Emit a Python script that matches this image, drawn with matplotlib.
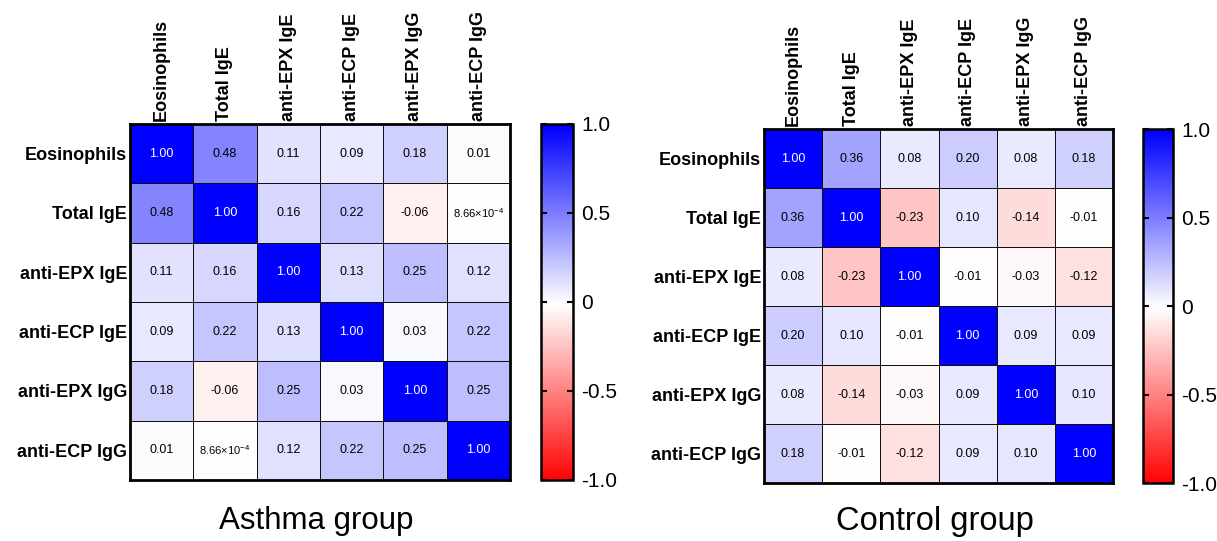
import numpy as np
import matplotlib
matplotlib.use("Agg")
import matplotlib.pyplot as plt
from matplotlib.colors import LinearSegmentedColormap

plt.rcParams['font.family'] = ['Liberation Sans', 'DejaVu Sans']
plt.rcParams['mathtext.fontset'] = 'custom'
plt.rcParams['mathtext.rm'] = 'Liberation Sans'
plt.rcParams['mathtext.it'] = 'Liberation Sans'

# data
labels = ['Eosinophils', 'Total IgE', 'anti-EPX IgE', 'anti-ECP IgE',
          'anti-EPX IgG', 'anti-ECP IgG']

asthma = [
    [1.00, 0.48, 0.11, 0.09, 0.18, 0.01],
    [0.48, 1.00, 0.16, 0.22, -0.06, 0.000866],
    [0.11, 0.16, 1.00, 0.13, 0.25, 0.12],
    [0.09, 0.22, 0.13, 1.00, 0.03, 0.22],
    [0.18, -0.06, 0.25, 0.03, 1.00, 0.25],
    [0.01, 0.000866, 0.12, 0.22, 0.25, 1.00],
]

control = [
    [1.00, 0.36, 0.08, 0.20, 0.08, 0.18],
    [0.36, 1.00, -0.23, 0.10, -0.14, -0.01],
    [0.08, -0.23, 1.00, -0.01, -0.03, -0.12],
    [0.20, 0.10, -0.01, 1.00, 0.09, 0.09],
    [0.08, -0.14, -0.03, 0.09, 1.00, 0.10],
    [0.18, -0.01, -0.12, 0.09, 0.10, 1.00],
]

cbar_ticks = [-1.0, -0.5, 0, 0.5, 1.0]
cbar_labels = ['-1.0', '-0.5', '0', '0.5', '1.0']

cmap = LinearSegmentedColormap.from_list('rwb', ['#ff0000', '#ffffff', '#0000ff'])


def fmt(v):
    if v != 0 and abs(v) < 0.005:
        m, e = '{:.2e}'.format(v).split('e')
        return r'%s$\times$10$^{%d}$' % (m, int(e)), 8
    return '{:.2f}'.format(v), 9


def draw_heatmap(ax, cax, data, title, title_xy, title_size):
    data = np.array(data)
    n = len(labels)
    mesh = ax.pcolormesh(data, cmap=cmap, vmin=-1, vmax=1,
                         edgecolors='#111111', linewidth=0.7)
    ax.set_xlim(0, n)
    ax.set_ylim(n, 0)
    for i in range(n):
        for j in range(n):
            v = data[i, j]
            s, fs = fmt(v)
            ax.text(j + 0.5, i + 0.5, s, ha='center', va='center',
                    fontsize=fs, color='white' if v > 0.9 else 'black')
    ax.set_xticks(np.arange(n) + 0.5)
    ax.set_yticks(np.arange(n) + 0.5)
    ax.set_xticklabels(labels, rotation=90, fontsize=13, fontweight='bold')
    ax.set_yticklabels(labels, fontsize=13, fontweight='bold')
    ax.xaxis.tick_top()
    ax.tick_params(length=0, pad=2)
    for s in ax.spines.values():
        s.set_linewidth(2)

    cb = plt.colorbar(mesh, cax=cax)
    cb.set_ticks(cbar_ticks)
    cb.set_ticklabels(cbar_labels)
    cb.outline.set_linewidth(1.8)
    cax.tick_params(labelsize=15, length=4, width=1.5, direction='in',
                    left=True, right=True, pad=6)
    cb.solids.set_edgecolor('face')
    fig.text(title_xy[0], title_xy[1], title, ha='center', va='center',
             fontsize=title_size)


fig = plt.figure(figsize=(12.17, 5.41), dpi=100)

ax1 = fig.add_axes([0.1068, 0.1128, 0.3122, 0.658])
cax1 = fig.add_axes([0.4445, 0.1128, 0.0263, 0.658])
draw_heatmap(ax1, cax1, asthma, 'Asthma group', (0.26, 0.037), 22.5)

ax2 = fig.add_axes([0.6278, 0.1072, 0.2868, 0.6543])
cax2 = fig.add_axes([0.9392, 0.1072, 0.0247, 0.6543])
draw_heatmap(ax2, cax2, control, 'Control group', (0.768, 0.036), 23.5)

fig.savefig('out.png', dpi=100)
